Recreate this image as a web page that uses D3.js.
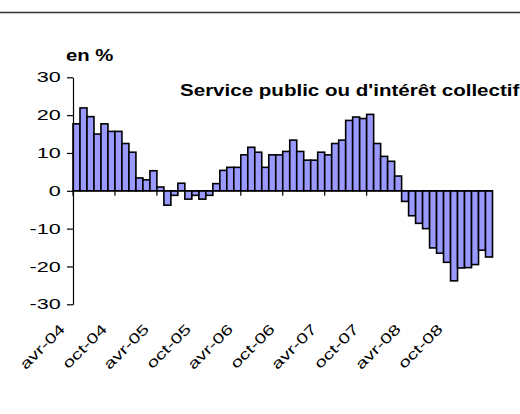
<!DOCTYPE html>
<html>
<head>
<meta charset="utf-8">
<script src="https://cdn.jsdelivr.net/npm/d3@7"></script>
<style>
  body { margin: 0; background: #fff; }
  text { font-family: "Liberation Sans", Arial, sans-serif; fill: #000; }
</style>
</head>
<body>
<svg width="520" height="414"></svg>
<script>
// monthly categories, avr-04 .. mars-09
const months = [
  "avr-04","mai-04","juin-04","juil-04","août-04","sept-04","oct-04","nov-04","déc-04","janv-05","févr-05","mars-05",
  "avr-05","mai-05","juin-05","juil-05","août-05","sept-05","oct-05","nov-05","déc-05","janv-06","févr-06","mars-06",
  "avr-06","mai-06","juin-06","juil-06","août-06","sept-06","oct-06","nov-06","déc-06","janv-07","févr-07","mars-07",
  "avr-07","mai-07","juin-07","juil-07","août-07","sept-07","oct-07","nov-07","déc-07","janv-08","févr-08","mars-08",
  "avr-08","mai-08","juin-08","juil-08","août-08","sept-08","oct-08","nov-08","déc-08","janv-09","févr-09","mars-09"
];

// en %
const values = [
  17.7, 21.9, 19.6, 15.0, 17.7, 15.7, 15.7, 12.5, 10.2, 3.4, 2.9, 5.3,
  1.0, -3.8, -1.2, 2.0, -2.2, -1.2, -2.2, -1.2, 1.9, 5.4, 6.2, 6.2,
  9.5, 11.5, 10.2, 6.2, 9.5, 9.5, 10.4, 13.4, 10.4, 8.1, 8.1, 10.2,
  9.5, 12.5, 13.4, 18.6, 19.5, 19.1, 20.2, 12.5, 9.1, 7.8, 3.9, -2.8,
  -6.6, -8.6, -10.0, -15.1, -16.5, -18.9, -23.8, -20.4, -20.3, -19.5, -15.7, -17.5
];

const tickLabels = ["avr-04","oct-04","avr-05","oct-05","avr-06","oct-06","avr-07","oct-07","avr-08","oct-08"];
const yTicks = [-30, -20, -10, 0, 10, 20, 30];

const title = "Service public ou d'intérêt collectif";
const unitLabel = "en %";

var svg = d3.select("svg");

var x = d3.scaleBand()
    .domain(months)
    .range([73, 492.5])
    .padding(0);

var y = d3.scaleLinear()
    .domain([-30, 30])
    .range([304.3, 77.3]);

// top frame line
svg.append("line")
  .attr("x1", 0).attr("x2", 520)
  .attr("y1", 12.5).attr("y2", 12.5)
  .attr("stroke", "#333")
  .attr("stroke-width", 1.5);

// bars
svg.append("g")
  .selectAll("rect")
  .data(values)
  .enter().append("rect")
    .attr("x", function(d, i) { return x(months[i]); })
    .attr("width", x.bandwidth())
    .attr("y", function(d) { return y(Math.max(0, d)); })
    .attr("height", function(d) { return Math.abs(y(d) - y(0)); })
    .attr("fill", "#9999ff")
    .attr("stroke", "#000")
    .attr("stroke-width", 1.6);

// y axis
var yAxis = svg.append("g")
  .attr("transform", "translate(73,0)")
  .call(d3.axisLeft(y).tickValues(yTicks).tickSize(6).tickSizeOuter(0).tickFormat(function(d) { return String(d); }));

yAxis.select(".domain").attr("stroke", "#000").attr("stroke-width", 1.2);
yAxis.selectAll(".tick line").attr("stroke", "#000").attr("stroke-width", 1.2);
yAxis.selectAll(".tick text")
  .attr("font-size", 14.4)
  .attr("font-family", "Liberation Sans, Arial, sans-serif")
  .attr("x", -12.3 / 1.5)
  .attr("transform", "scale(1.5,1)");

// zero line with ticks every 6 months
var x0 = svg.append("g");
x0.append("line")
  .attr("x1", x.range()[0]).attr("x2", x.range()[1])
  .attr("y1", y(0)).attr("y2", y(0))
  .attr("stroke", "#000")
  .attr("stroke-width", 1.6);

x0.selectAll("line.tk")
  .data(tickLabels)
  .enter().append("line")
    .attr("class", "tk")
    .attr("x1", function(d) { return x(d); })
    .attr("x2", function(d) { return x(d); })
    .attr("y1", y(0))
    .attr("y2", y(0) + 5)
    .attr("stroke", "#000")
    .attr("stroke-width", 1.2);

// rotated category labels
svg.append("g")
  .selectAll("text")
  .data(tickLabels)
  .enter().append("text")
    .attr("transform", function(d) {
      return "translate(" + (x(d) - 7) + ",330) rotate(-45) scale(1.4,1)";
    })
    .attr("text-anchor", "end")
    .attr("font-size", 14.4)
    .text(function(d) { return d; });

// unit label
svg.append("text")
  .attr("transform", "translate(66,60.7) scale(1.27,1)")
  .attr("font-size", 16)
  .attr("font-weight", "bold")
  .text(unitLabel);

// title
svg.append("text")
  .attr("transform", "translate(180,95.5) scale(1.285,1)")
  .attr("font-size", 16)
  .attr("font-weight", "bold")
  .text(title);
</script>
</body>
</html>
